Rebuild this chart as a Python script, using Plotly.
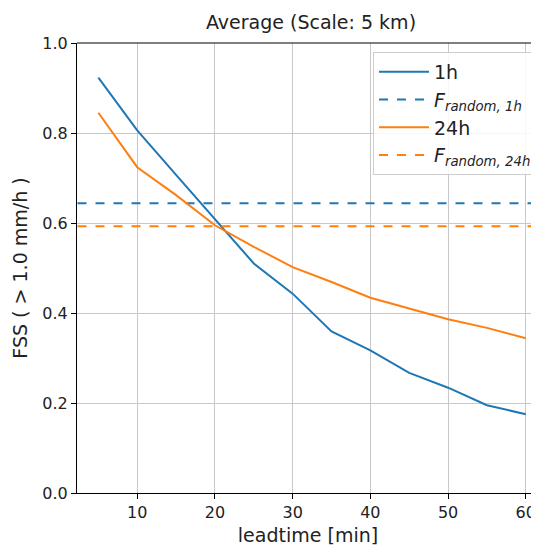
import plotly.graph_objects as go

leadtime = [5, 10, 15, 20, 25, 30, 35, 40, 45, 50, 55, 60]
fss_1h = [0.923, 0.806, 0.707, 0.609, 0.510, 0.443, 0.359, 0.317, 0.267, 0.234, 0.195, 0.175]
fss_24h = [0.845, 0.724, 0.662, 0.595, 0.547, 0.502, 0.469, 0.434, 0.410, 0.386, 0.367, 0.344]
f_random_1h = 0.644
f_random_24h = 0.593

blue = "#1f77b4"
orange = "#ff7f0e"
font = "DejaVu Sans"

fig = go.Figure()
fig.add_trace(go.Scatter(x=leadtime, y=fss_1h, mode="lines", name="1h",
                         line=dict(color=blue, width=2)))
fig.add_trace(go.Scatter(x=[0, 70], y=[f_random_1h, f_random_1h], mode="lines",
                         name="<i>F<sub>random, 1h</sub></i>",
                         line=dict(color=blue, width=2, dash="dash")))
fig.add_trace(go.Scatter(x=leadtime, y=fss_24h, mode="lines", name="24h",
                         line=dict(color=orange, width=2)))
fig.add_trace(go.Scatter(x=[0, 70], y=[f_random_24h, f_random_24h], mode="lines",
                         name="<i>F<sub>random, 24h</sub></i>",
                         line=dict(color=orange, width=2, dash="dash")))

fig.update_layout(
    width=539, height=550,
    margin=dict(l=69, r=8, t=35, b=65, autoexpand=False),
    plot_bgcolor="white", paper_bgcolor="white",
    font=dict(family=font, size=16, color="#222222"),
    title=dict(text="Average (Scale: 5 km)", x=303/539, xanchor="center",
               y=1 - 14/550, yanchor="middle", font=dict(size=19, color="#222222")),
    showlegend=True,
    legend=dict(x=0.9957, xanchor="right", y=0.98, yanchor="top",
                bgcolor="rgba(255,255,255,0.85)", bordercolor="#cccccc", borderwidth=1,
                font=dict(size=19, color="#222222"), tracegroupgap=0,
                itemwidth=50),
)
fig.update_xaxes(range=[2.25, 61.7], tickvals=[10, 20, 30, 40, 50, 60],
                 automargin=False,
                 showgrid=True, gridcolor="#c8c8c8", gridwidth=1,
                 showline=True, linecolor="black", linewidth=1.2, mirror=False,
                 ticks="outside", ticklen=5, tickcolor="black",
                 zeroline=False,
                 title=dict(text="leadtime [min]", font=dict(size=19), standoff=7))
fig.update_yaxes(range=[0, 1], tickvals=[0, 0.2, 0.4, 0.6, 0.8, 1.0],
                 tickformat=".1f", automargin=False,
                 showgrid=True, gridcolor="#c8c8c8", gridwidth=1,
                 showline=True, linecolor="black", linewidth=1.2,
                 ticks="outside", ticklen=5, tickcolor="black",
                 zeroline=False,
                 title=dict(text="FSS ( > 1.0 mm/h )", font=dict(size=19), standoff=9))
# top spine
fig.add_shape(type="line", xref="paper", yref="paper", x0=0, x1=1, y0=1, y1=1,
              line=dict(color="black", width=1.2))

fig.write_html("out.html")
